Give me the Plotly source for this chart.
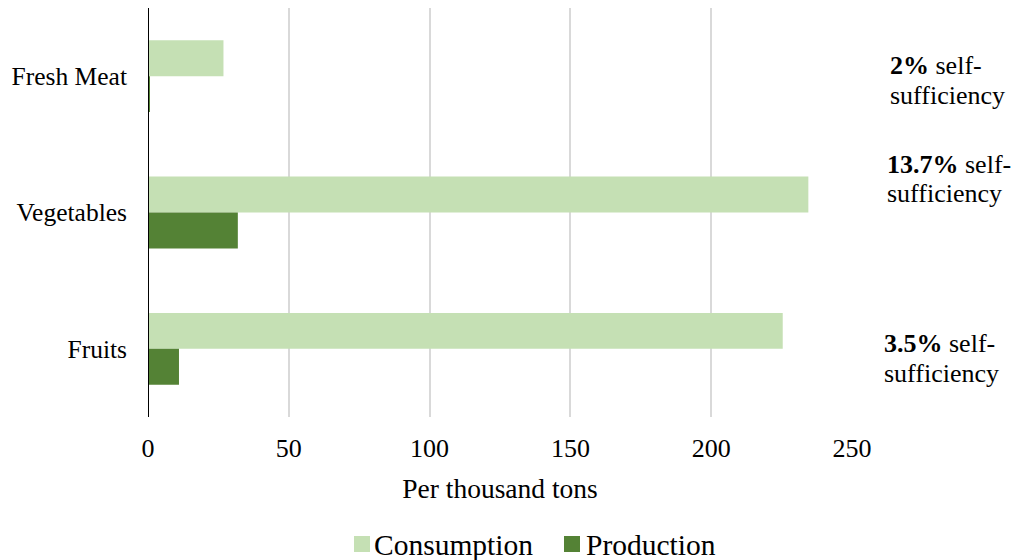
import plotly.graph_objects as go

categories = ["Fresh Meat", "Vegetables", "Fruits"]
consumption = [26.8, 234.5, 225.4]
production = [0.5, 31.9, 11.0]
series_names = ["Consumption", "Production"]
ratio_bold = ["2%", "13.7%", "3.5%"]
ratio_rest = " self-"
ratio_line2 = "sufficiency"
x_ticks = [0, 50, 100, 150, 200, 250]

FONT = "Liberation Serif, Times New Roman, serif"
C_LIGHT = "#c5e0b4"
C_DARK = "#548235"

W, H = 1014, 560
L, R, T, B = 148, 162, 8, 143
plot_h = H - T - B
plot_w = W - L - R


def py(px):
    return (H - B - px) / plot_h


def pxx(px):
    return (px - L) / plot_w


fig = go.Figure()
fig.add_trace(go.Bar(y=categories, x=consumption, orientation="h", name=series_names[0],
                     marker=dict(color=C_LIGHT, line=dict(width=0))))
fig.add_trace(go.Bar(y=categories, x=production, orientation="h", name=series_names[1],
                     marker=dict(color=C_DARK, line=dict(width=0))))

# vertical axis line at x = 0
fig.add_shape(type="line", xref="x", yref="paper", x0=0, x1=0, y0=0, y1=1,
              line=dict(color="black", width=2), layer="above")

# annotations on the right
line_pos = [(888, 65, 95), (885, 164, 193), (882, 343, 373)]
for (xl, y1, y2), b in zip(line_pos, ratio_bold):
    fig.add_annotation(x=pxx(xl), y=py(y1), xref="paper", yref="paper", xanchor="left",
                       yanchor="middle", showarrow=False, align="left",
                       text=f"<b>{b}</b>{ratio_rest}", font=dict(family=FONT, size=26, color="black"))
    fig.add_annotation(x=pxx(xl), y=py(y2), xref="paper", yref="paper", xanchor="left",
                       yanchor="middle", showarrow=False, align="left",
                       text=ratio_line2, font=dict(family=FONT, size=26, color="black"))

# manual legend
legend_items = [(354, 372, C_LIGHT), (564, 584, C_DARK)]
for (sx, tx, col), name in zip(legend_items, series_names):
    fig.add_shape(type="rect", xref="paper", yref="paper",
                  x0=pxx(sx), x1=pxx(sx + 16), y0=py(552), y1=py(536),
                  fillcolor=col, line=dict(width=0))
    fig.add_annotation(x=pxx(tx), y=py(545), xref="paper", yref="paper", xanchor="left",
                       yanchor="middle", showarrow=False, text=name,
                       font=dict(family=FONT, size=29.5, color="black"))

fig.update_layout(
    width=W, height=H,
    margin=dict(l=L, r=R, t=T, b=B, pad=0),
    paper_bgcolor="white", plot_bgcolor="white",
    barmode="group", bargap=0.473, bargroupgap=0,
    font=dict(family=FONT, color="black"),
    showlegend=False,
    xaxis=dict(range=[0, 250], tickvals=x_ticks, showgrid=True, gridcolor="#d9d9d9", gridwidth=1.5,
               zeroline=False, showline=False, ticks="outside", ticklen=8, tickcolor="rgba(0,0,0,0)",
               tickfont=dict(family=FONT, size=26, color="black"), automargin=False,
               title=dict(text="Per thousand tons", font=dict(family=FONT, size=27.5, color="black"),
                          standoff=16)),
    yaxis=dict(autorange="reversed", showgrid=False, zeroline=False, showline=False,
               ticks="", automargin=False,
               tickfont=dict(family=FONT, size=25.5, color="black"), ticklabelstandoff=20),
)

fig.write_html("out.html")
